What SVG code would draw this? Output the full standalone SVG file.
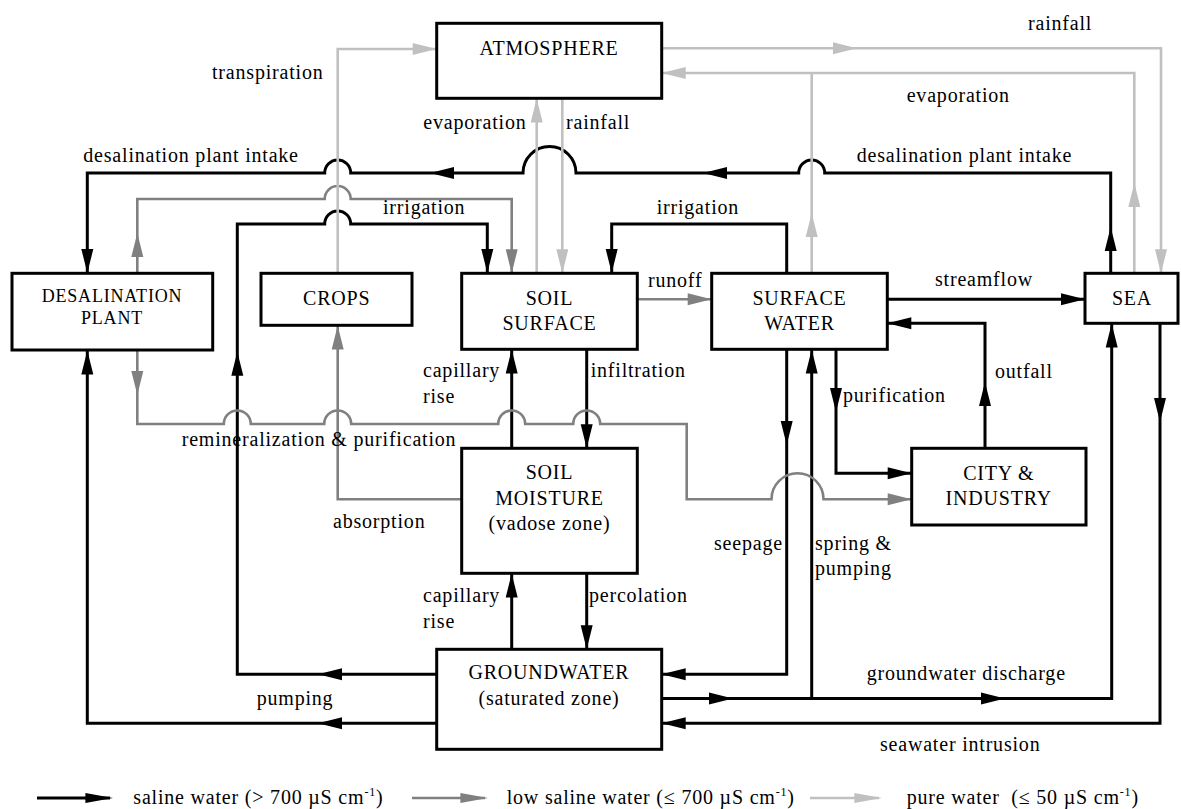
<svg xmlns="http://www.w3.org/2000/svg" width="1181" height="809" viewBox="0 0 1181 809" font-family="'Liberation Serif', 'DejaVu Serif', serif">
<style>
text{font-family:'Liberation Serif','DejaVu Serif',serif}
.t{font-size:20px;letter-spacing:0.8px;fill:#000}
.m{text-anchor:middle}
.s{font-size:18px}
.box{fill:#fff;stroke:#000;stroke-width:3}
.k{fill:none;stroke:#000;stroke-width:3}
.g{fill:none;stroke:#808080;stroke-width:2.6}
.l{fill:none;stroke:#c0c0c0;stroke-width:2.6}
.ak{fill:#000}
.ag{fill:#808080}
.al{fill:#c0c0c0}
.sup{font-size:12px}
</style>
<defs>
<path id="ah" d="M0,0 L-24,-6 L-24,6 Z"/>
</defs>
<rect width="1181" height="809" fill="#fff"/>

<g id="connectors">
<path class="k" d="M87.3,273 V173 H324.7 A13,13 0 0 1 350.7,173 H523 A26.5,26.5 0 0 1 576,173 H798.7 A13,13 0 0 1 824.7,173 H1110.7 V273"/>
<path class="k" d="M436.7,674.3 H237.3 V224 H324.7 A13,13 0 0 1 350.7,224 H487.3 V273"/>
<path class="k" d="M436.7,723.3 H87.3 V350"/>
<path class="k" d="M786.7,273 V224 H611.7 V273"/>
<path class="k" d="M887.3,299.3 H1085"/>
<path class="k" d="M985,448.3 V323.3 H887.3"/>
<path class="k" d="M836,349 V473.3 H911.7"/>
<path class="k" d="M786.7,349 V674.3 H661.7"/>
<path class="k" d="M661.7,698.5 H1111.7 V323.3"/>
<path class="k" d="M811.7,698.5 V349"/>
<path class="k" d="M1160,323.3 V723.3 H661.7"/>
<path class="k" d="M511.7,448.3 V349.3"/>
<path class="k" d="M586.7,349.3 V448.3"/>
<path class="k" d="M511.7,649.3 V573.3"/>
<path class="k" d="M586.7,573.3 V649.3"/>
<path class="g" d="M137.3,273.3 V199 H324.7 A13,13 0 0 1 350.7,199 H511.7 V273.3"/>
<path class="g" d="M137.3,350 V424 H223.8 A13.5,13.5 0 0 1 250.8,424 H324.2 A13.5,13.5 0 0 1 351.2,424 H498.2 A13.5,13.5 0 0 1 525.2,424 H573.2 A13.5,13.5 0 0 1 600.2,424 H686.7 V499.3 H771.5 A26,26 0 0 1 823.5,499.3 H911.7"/>
<path class="g" d="M461.7,499.3 H337.7 V325"/>
<path class="g" d="M637.3,299.3 H711.7"/>
<path class="l" d="M337.7,273.3 V49 H436.7"/>
<path class="l" d="M536.7,273.3 V98.3"/>
<path class="l" d="M562.3,98.3 V273.3"/>
<path class="l" d="M661.7,48.3 H1161 V273.3"/>
<path class="l" d="M1134.3,273.3 V73 H661.7"/>
<path class="l" d="M811.7,273.3 V73"/>

<use href="#ah" class="ak" transform="translate(430,173) rotate(180)"/>
<use href="#ah" class="ak" transform="translate(703,173) rotate(180)"/>
<use href="#ah" class="ak" transform="translate(87.3,273) rotate(90)"/>
<use href="#ah" class="ak" transform="translate(1110.7,227) rotate(-90)"/>
<use href="#ah" class="ak" transform="translate(318,674.3) rotate(180)"/>
<use href="#ah" class="ak" transform="translate(237.3,351.7) rotate(-90)"/>
<use href="#ah" class="ak" transform="translate(487.3,273) rotate(90)"/>
<use href="#ah" class="ak" transform="translate(318,723.3) rotate(180)"/>
<use href="#ah" class="ak" transform="translate(87.3,350.5) rotate(-90)"/>
<use href="#ah" class="ak" transform="translate(611.7,273) rotate(90)"/>
<use href="#ah" class="ak" transform="translate(1085,299.3)"/>
<use href="#ah" class="ak" transform="translate(985,382) rotate(-90)"/>
<use href="#ah" class="ak" transform="translate(887.3,323.3) rotate(180)"/>
<use href="#ah" class="ak" transform="translate(836,412) rotate(90)"/>
<use href="#ah" class="ak" transform="translate(911.7,473.3)"/>
<use href="#ah" class="ak" transform="translate(786.7,445) rotate(90)"/>
<use href="#ah" class="ak" transform="translate(661.7,674.3) rotate(180)"/>
<use href="#ah" class="ak" transform="translate(733,698.5)"/>
<use href="#ah" class="ak" transform="translate(1005,698.5)"/>
<use href="#ah" class="ak" transform="translate(1111.7,323.5) rotate(-90)"/>
<use href="#ah" class="ak" transform="translate(811.7,349.5) rotate(-90)"/>
<use href="#ah" class="ak" transform="translate(1160,422) rotate(90)"/>
<use href="#ah" class="ak" transform="translate(661.7,723.3) rotate(180)"/>
<use href="#ah" class="ak" transform="translate(511.7,349.5) rotate(-90)"/>
<use href="#ah" class="ak" transform="translate(586.7,448.3) rotate(90)"/>
<use href="#ah" class="ak" transform="translate(511.7,573.5) rotate(-90)"/>
<use href="#ah" class="ak" transform="translate(586.7,649.3) rotate(90)"/>
<use href="#ah" class="ag" transform="translate(137.3,233) rotate(-90)"/>
<use href="#ah" class="ag" transform="translate(511.7,273.3) rotate(90)"/>
<use href="#ah" class="ag" transform="translate(137.3,395) rotate(90)"/>
<use href="#ah" class="ag" transform="translate(911.7,499.3)"/>
<use href="#ah" class="ag" transform="translate(337.7,325.5) rotate(-90)"/>
<use href="#ah" class="ag" transform="translate(711.7,299.3)"/>
<use href="#ah" class="al" transform="translate(436.7,49)"/>
<use href="#ah" class="al" transform="translate(536.7,98.5) rotate(-90)"/>
<use href="#ah" class="al" transform="translate(562.3,273.3) rotate(90)"/>
<use href="#ah" class="al" transform="translate(857,48.3)"/>
<use href="#ah" class="al" transform="translate(1161,273.3) rotate(90)"/>
<use href="#ah" class="al" transform="translate(1134.3,183) rotate(-90)"/>
<use href="#ah" class="al" transform="translate(661.7,73) rotate(180)"/>
<use href="#ah" class="al" transform="translate(811.7,213) rotate(-90)"/>
</g>

<g id="node-atmosphere">
<rect class="box" x="436.7" y="23.3" width="225" height="75"/>
<text class="t m" x="549" y="55">ATMOSPHERE</text>
</g>
<g id="node-desalination">
<rect class="box" x="12" y="273.3" width="200.7" height="76.7"/>
<text class="t s m" x="112" y="302">DESALINATION</text>
<text class="t s m" x="112" y="324">PLANT</text>
</g>
<g id="node-crops">
<rect class="box" x="261" y="273.3" width="151" height="52"/>
<text class="t m" x="336.7" y="305">CROPS</text>
</g>
<g id="node-soil-surface">
<rect class="box" x="461.7" y="273.3" width="175.6" height="76"/>
<text class="t m" x="549.5" y="305">SOIL</text>
<text class="t m" x="549.5" y="330">SURFACE</text>
</g>
<g id="node-surface-water">
<rect class="box" x="711.7" y="273.3" width="175.6" height="76"/>
<text class="t m" x="799.5" y="305">SURFACE</text>
<text class="t m" x="799.5" y="330">WATER</text>
</g>
<g id="node-sea">
<rect class="box" x="1085" y="273.3" width="93" height="50"/>
<text class="t m" x="1132" y="305">SEA</text>
</g>
<g id="node-soil-moisture">
<rect class="box" x="461.7" y="448.3" width="175.6" height="125"/>
<text class="t m" x="549.5" y="479">SOIL</text>
<text class="t m" x="549.5" y="505">MOISTURE</text>
<text class="t m" x="549.5" y="530">(vadose zone)</text>
</g>
<g id="node-city">
<rect class="box" x="911.7" y="448.3" width="174.3" height="76.7"/>
<text class="t m" x="998.8" y="480">CITY &amp;</text>
<text class="t m" x="998.8" y="505">INDUSTRY</text>
</g>
<g id="node-groundwater">
<rect class="box" x="436.7" y="649.3" width="225" height="100"/>
<text class="t m" x="549" y="679">GROUNDWATER</text>
<text class="t m" x="549" y="705">(saturated zone)</text>
</g>

<g id="labels">
<text class="t" x="212" y="79">transpiration</text>
<text class="t" x="1028" y="30">rainfall</text>
<text class="t" x="906.7" y="102">evaporation</text>
<text class="t" x="856.7" y="162">desalination plant intake</text>
<text class="t" x="83.3" y="162">desalination plant intake</text>
<text class="t" x="423.3" y="129">evaporation</text>
<text class="t" x="566" y="129">rainfall</text>
<text class="t" x="383" y="214">irrigation</text>
<text class="t" x="656.7" y="214">irrigation</text>
<text class="t" x="648" y="287">runoff</text>
<text class="t" x="935" y="286">streamflow</text>
<text class="t" x="423" y="377">capillary</text>
<text class="t" x="423" y="403">rise</text>
<text class="t" x="590.7" y="377">infiltration</text>
<text class="t" x="995" y="378">outfall</text>
<text class="t" x="843" y="402">purification</text>
<text class="t" x="181.7" y="446">remineralization &amp; purification</text>
<text class="t" x="333" y="528">absorption</text>
<text class="t" x="714" y="550">seepage</text>
<text class="t" x="815" y="550">spring &amp;</text>
<text class="t" x="815" y="575">pumping</text>
<text class="t" x="423" y="602">capillary</text>
<text class="t" x="423" y="628">rise</text>
<text class="t" x="589" y="602">percolation</text>
<text class="t" x="256.7" y="705">pumping</text>
<text class="t" x="866.7" y="680">groundwater discharge</text>
<text class="t" x="880" y="751">seawater intrusion</text>
</g>

<g id="legend">
<path class="k" d="M37,798 H110"/>
<use href="#ah" class="ak" transform="translate(113,798) scale(1.15,0.85)"/>
<text class="t" x="133.3" y="804">saline water (&gt; 700 µS cm<tspan class="sup" dy="-8">-1</tspan><tspan dy="8">)</tspan></text>
<path class="g" d="M412,798 H485"/>
<use href="#ah" class="ag" transform="translate(488,798) scale(1.15,0.85)"/>
<text class="t" x="506.7" y="804">low saline water (≤ 700 µS cm<tspan class="sup" dy="-8">-1</tspan><tspan dy="8">)</tspan></text>
<path class="l" d="M810,798 H879"/>
<use href="#ah" class="al" transform="translate(882,798) scale(1.15,0.85)"/>
<text class="t" x="906.7" y="804" xml:space="preserve">pure water  (≤ 50 µS cm<tspan class="sup" dy="-8">-1</tspan><tspan dy="8">)</tspan></text>
</g>
</svg>
